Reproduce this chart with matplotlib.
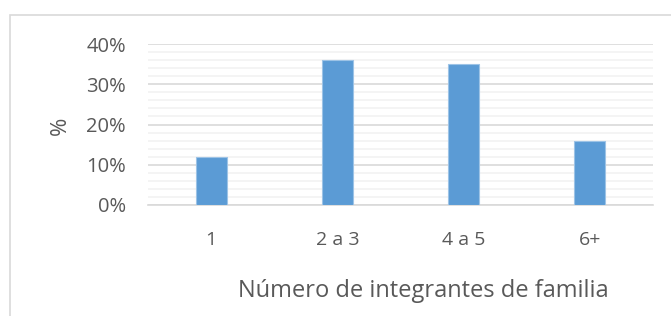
import matplotlib.pyplot as plt
from matplotlib.patches import Rectangle
from matplotlib.ticker import MultipleLocator, PercentFormatter

# datos
categorias = ["1", "2 a 3", "4 a 5", "6+"]
porcentajes = [12, 36, 35, 16]

plt.rcParams['font.family'] = ['Open Sans', 'DejaVu Sans']
gris = '#595959'

fig = plt.figure(figsize=(6.71, 3.16), dpi=100)

# marco del grafico
fig.patches.append(Rectangle((10 / 671, -0.1), 1.2, 1 - 15 / 316 + 0.1,
                             transform=fig.transFigure, fill=False,
                             edgecolor='#D9D9D9', linewidth=1.2))

ax = fig.add_axes([148 / 671, 1 - 205 / 316, 505 / 671, 161 / 316])

x = range(len(categorias))
ax.bar(x, porcentajes, width=0.245, color='#5B9BD5',
       edgecolor='#9DC3E6', linewidth=0.8, zorder=3)

ax.set_xlim(-0.5, len(categorias) - 0.5)
ax.set_ylim(0, 40)
ax.yaxis.set_major_locator(MultipleLocator(10))
ax.yaxis.set_minor_locator(MultipleLocator(2))
ax.yaxis.set_major_formatter(PercentFormatter(decimals=0))

ax.grid(axis='y', which='minor', color='#F2F2F2', linewidth=1.2, zorder=0)
ax.grid(axis='y', which='major', color='#D9D9D9', linewidth=1.2, zorder=1)

for s in ['top', 'right', 'left']:
    ax.spines[s].set_visible(False)
ax.spines['bottom'].set_color('#D9D9D9')
ax.spines['bottom'].set_linewidth(1.2)

ax.set_xticks(list(x))
ax.set_xticklabels(categorias)
ax.tick_params(axis='both', which='both', length=0, labelcolor=gris)
ax.tick_params(axis='x', pad=19, labelsize=14)
ax.tick_params(axis='y', pad=16, labelsize=14.5)

fig.text(60 / 671, 1 - 126 / 316, '%', rotation=90, ha='center',
         va='center', fontsize=16, color=gris)
fig.text(423 / 671, 1 - 291 / 316, 'Número de integrantes de familia',
         ha='center', va='center', fontsize=17, color=gris)

fig.savefig('out.png', dpi=100)
